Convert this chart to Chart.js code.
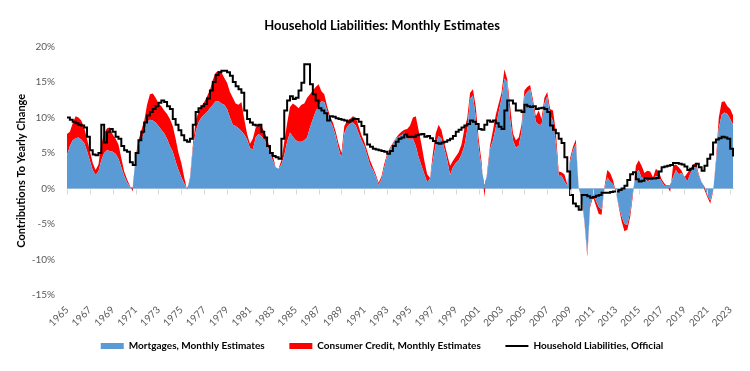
<!DOCTYPE html>
<html>
<head>
<meta charset="utf-8">
<script src="https://cdn.jsdelivr.net/npm/chart.js@4.4.0/dist/chart.umd.min.js"></script>
<style>
  html, body { margin: 0; padding: 0; background: #fff; }
</style>
</head>
<body>
<canvas id="grafico" width="750" height="371"></canvas>
<script>
// quarterly readings, first point = Q1 1965 (contributions to yearly change, %)
const startYear = 1965;

const mortgages = [
  4.7, 6.0, 6.8, 7.1, 7.2, 6.9, 6.4, 5.3, 3.9, 2.6, 1.9, 2.4, 4.0, 5.0, 5.4, 5.3, 5.2, 4.9, 4.2, 3.0,
  1.8, 0.9, 0.2, 0.1, 4.4, 6.1, 7.0, 7.8, 9.4, 9.7, 9.6, 9.3, 8.8, 8.3, 7.8, 7.0, 6.0, 5.2,
  3.8, 2.6, 1.6, 0.7, 0.0, 1.2, 5.5, 8.0, 9.3, 10.0, 10.4, 10.8, 11.3, 11.8, 12.3, 12.3, 12.0, 11.8, 11.2, 10.0,
  9.0, 8.8, 8.5, 8.1, 7.6, 6.9, 5.7, 5.5, 7.2, 7.7, 7.4, 6.9, 6.1, 5.0, 3.9, 3.0, 2.8, 3.4, 4.7, 6.6, 7.9,
  7.3, 6.8, 6.6, 6.6, 6.8, 7.2, 8.6, 9.8, 10.9, 11.7, 12.3, 12.2, 11.0, 9.6, 8.7, 7.4, 5.6, 4.3, 7.8, 8.7,
  9.1, 9.3, 8.9, 7.8, 6.8, 6.0, 4.7, 3.3, 2.6, 1.7, 0.5, 1.3, 3.0, 4.6, 5.6, 6.2, 7.0, 7.3, 7.5, 7.9,
  7.0, 7.0, 7.0, 6.0, 4.4, 3.2, 2.0, 0.9, 1.4, 4.0, 6.2, 7.4, 7.0, 5.6, 4.0, 1.9, 3.0, 3.6, 4.0, 4.8,
  6.0, 8.3, 12.6, 13.1, 10.0, 5.8, 3.0, 0.4, 2.0, 5.6, 6.8, 8.6, 10.8, 12.7, 15.5, 15.0, 9.8, 6.8, 5.8, 6.0,
  8.0, 13.0, 13.6, 14.0, 12.0, 9.4, 9.0, 9.0, 12.0, 13.0, 10.3, 9.5, 6.4, 1.8, 1.8, 1.0, 0.4, 3.8, 5.4, 6.3,
  0.0, -1.2, -4.5, -9.2, -2.3, -0.8, -1.7, -2.6, -3.0, 0.0, 1.6, 1.0, 0.6, -0.5, -2.4, -3.9, -5.0, -5.1, -3.3, -0.3,
  2.2, 2.6, 1.5, 1.6, 1.0, 1.2, 1.2, 1.8, 1.6, 1.0, 0.4, 0.5, 0.5, 1.6, 2.6, 2.0, 2.2, 1.7, 1.0, 2.1,
  2.8, 3.1, 1.8, 0.9, 0.2, -0.9, -1.7, -0.3, 3.5, 8.5, 10.4, 10.7, 10.5, 9.8, 9.0
];

const consumerCredit = [
  3.0, 2.0, 2.4, 3.1, 2.8, 2.7, 2.2, 1.7, 1.4, 1.0, 0.7, 1.0, 2.2, 2.8, 3.1, 3.3, 2.4, 2.1, 2.0, 1.3,
  0.6, 0.4, 0.2, -0.5, 0.1, 0.7, 1.2, 1.7, 2.4, 3.6, 3.8, 3.5, 3.2, 3.3, 3.2, 3.5, 3.8, 3.6,
  3.2, 2.4, 2.0, 0.9, -0.2, 0.3, 0.5, 1.6, 1.5, 1.6, 1.8, 2.2, 2.6, 3.5, 4.0, 4.3, 4.4, 3.8, 3.7, 3.6,
  3.8, 3.2, 3.3, 4.1, 2.2, 0.8, 0.6, 1.5, 1.4, 1.3, 1.4, 1.1, 0.9, 0.5, 0.7, 0.0, 0.0, 0.6, 1.9, 2.6, 3.6,
  4.7, 4.9, 4.7, 5.2, 5.2, 5.6, 4.7, 4.0, 3.4, 3.0, 1.4, 1.1, 0.6, 0.6, 0.6, 0.6, 0.7, 0.7, 1.0, 0.9,
  0.7, 0.9, 1.1, 1.0, 0.7, 0.6, 0.6, 0.7, 0.4, 0.3, 0.3, 0.4, 0.5, 0.3, 0.2, 0.2, 0.1, 0.3, 0.5, 0.4,
  1.4, 1.9, 3.0, 4.2, 3.8, 3.0, 1.9, 1.1, 0.1, 1.0, 1.6, 1.6, 1.2, 0.8, 0.8, 1.3, 0.9, 0.9, 1.1, 1.4,
  2.4, 1.6, 0.9, 0.9, 1.5, 1.2, 0.8, -1.6, 0.5, 0.5, 1.4, 1.8, 1.2, 0.8, 1.3, 0.4, 1.9, 1.0, 1.0, 1.2,
  1.0, 0.8, 0.7, 0.6, 0.5, 0.8, 2.0, 0.8, 0.8, 0.6, 0.9, 1.5, 1.6, 0.6, 0.5, 1.0, 0.2, 0.5, 0.5, 0.6,
  0.0, -0.2, -0.3, -0.4, -0.3, -0.4, -0.7, -1.0, -0.7, 0.2, 1.0, 1.2, 0.6, 0.0, -0.2, -0.7, -1.0, -0.7, -0.7, -0.5,
  1.0, 1.4, 1.7, 0.6, 1.5, 1.2, 0.4, 1.0, 0.8, 0.3, 0.3, -0.2, -1.0, 1.6, 0.8, 1.0, 0.3, -0.1, 1.2, 0.7,
  0.6, 0.5, 0.2, 0.0, -0.4, -0.3, -0.4, -0.2, 0.5, 1.5, 1.8, 1.6, 1.1, 1.4, 1.3
];

const officialTotal = [
  10.0, 9.7, 9.4, 9.2, 9.0, 8.9, 8.6, 7.3, 5.4, 4.8, 4.7, 5.0, 9.0, 6.5, 8.0, 8.4, 8.0, 7.3, 7.0, 6.0,
  5.4, 5.2, 3.7, 3.3, 5.0, 6.8, 8.0, 9.3, 10.3, 10.8, 11.2, 11.6, 12.1, 12.4, 12.2, 11.6, 11.2, 9.8,
  9.0, 8.2, 7.5, 6.8, 6.6, 7.0, 9.0, 10.8, 11.3, 11.6, 11.9, 12.7, 13.8, 15.0, 16.0, 16.4, 16.6, 16.6, 16.4, 15.9,
  15.0, 14.4, 14.0, 13.5, 11.0, 9.8, 9.3, 9.0, 8.9, 9.0, 8.0, 7.2, 6.0, 5.0, 4.6, 4.4, 4.2, 7.0, 11.0, 12.4, 13.0,
  12.6, 12.8, 13.8, 14.9, 17.5, 17.5, 14.7, 13.3, 12.4, 11.3, 11.0, 10.6, 9.6, 10.2, 10.1, 9.9, 9.8, 9.7, 9.6, 9.4,
  9.6, 9.8, 9.8, 9.4, 8.8, 7.6, 6.2, 5.9, 5.6, 5.5, 5.4, 5.3, 5.2, 4.9, 5.3, 6.0, 6.6, 7.0, 7.2, 7.6,
  7.3, 7.3, 7.3, 7.5, 7.6, 7.7, 7.3, 7.4, 7.1, 6.7, 6.4, 6.3, 6.5, 6.6, 6.8, 7.0, 7.4, 8.0, 8.3, 8.6,
  8.9, 9.1, 9.6, 9.4, 9.1, 8.4, 8.3, 9.0, 9.6, 9.4, 9.6, 9.2, 8.7, 8.4, 11.0, 12.4, 12.4, 12.0, 11.0, 11.0,
  10.8, 11.8, 11.6, 11.5, 11.6, 11.2, 11.3, 11.4, 11.2, 10.8, 8.9, 8.3, 7.8, 7.0, 6.4, 4.4, 2.4, -0.9, -2.1, -2.5,
  -3.0, -0.9, -0.9, -1.1, -1.3, -1.2, -1.0, -0.9, -0.6, -0.6, -0.6, -0.5, -0.4, -0.4, -0.2, 0.0, 0.4, 1.2, 2.0, 2.3,
  1.3, 1.0, 1.1, 1.5, 1.4, 1.4, 1.4, 1.5, 2.4, 3.0, 3.1, 3.2, 3.3, 3.6, 3.6, 3.5, 3.4, 3.1, 2.6, 2.8,
  3.2, 3.5, 3.0, 2.5, 3.2, 4.2, 4.8, 6.5, 6.9, 7.1, 7.3, 7.2, 7.0, 5.6, 4.5
];

const xTickYears = [1965, 1967, 1969, 1971, 1973, 1975, 1977, 1979, 1981, 1983, 1985, 1987, 1989, 1991, 1993,
  1995, 1997, 1999, 2001, 2003, 2005, 2007, 2009, 2011, 2013, 2015, 2017, 2019, 2021, 2023];
const yTickValues = [-15, -10, -5, 0, 5, 10, 15, 20];

const quarters = mortgages.map((_, i) => startYear + i / 4);
const toPoints = arr => arr.map((v, i) => ({ x: quarters[i], y: v }));

const FONT = "Lato, 'Liberation Sans', sans-serif";
Chart.defaults.font.family = FONT;
Chart.defaults.color = '#595959';

// little tick marks hanging under the 0% line, like the Excel axis
const zeroTicks = {
  id: 'zeroTicks',
  afterDatasetsDraw(chart) {
    const { ctx, scales: { x, y } } = chart;
    const y0 = Math.round(y.getPixelForValue(0)) + 0.5;
    ctx.save();
    ctx.strokeStyle = '#D9D9D9';
    ctx.lineWidth = 1;
    ctx.beginPath();
    x.ticks.forEach(t => {
      const px = Math.round(x.getPixelForValue(t.value)) + 0.5;
      ctx.moveTo(px, y0);
      ctx.lineTo(px, y0 + 5);
    });
    ctx.stroke();
    ctx.restore();
  }
};

const ctx = document.getElementById('grafico');

let chart = new Chart(ctx, {
  type: 'line',
  data: {
    datasets: [
      {
        label: 'Mortgages, Monthly Estimates',
        data: toPoints(mortgages),
        backgroundColor: '#5B9BD5',
        borderColor: 'transparent',
        borderWidth: 0,
        fill: 'origin',
        pointRadius: 0,
        pointStyle: 'rect',
        stack: 'est'
      },
      {
        label: 'Consumer Credit, Monthly Estimates',
        data: toPoints(consumerCredit),
        backgroundColor: '#FF0000',
        borderColor: 'transparent',
        borderWidth: 0,
        fill: '-1',
        pointRadius: 0,
        pointStyle: 'rect',
        stack: 'est'
      },
      {
        label: 'Household Liabilities, Official',
        data: toPoints(officialTotal),
        borderColor: '#000000',
        backgroundColor: '#000000',
        borderWidth: 2,
        fill: false,
        stepped: true,
        pointRadius: 0,
        pointStyle: 'line',
        stack: 'official',
        order: -1   // draw the line above the areas
      }
    ]
  },
  options: {
    responsive: false,
    animation: false,
    layout: { padding: { left: 30, right: 16, top: 0, bottom: 10 } },
    plugins: {
      title: {
        display: true,
        text: 'Household Liabilities: Monthly Estimates',
        color: '#000',
        font: { size: 13, weight: 'bold' },
        padding: { top: 18, bottom: 13 }
      },
      legend: {
        position: 'bottom',
        labels: {
          usePointStyle: true,
          pointStyleWidth: 23,
          boxHeight: 6,
          padding: 10,
          color: '#000',
          font: { size: 10, weight: 'bold' },
          sort: (a, b) => a.datasetIndex - b.datasetIndex,
          generateLabels(ch) {
            const items = Chart.defaults.plugins.legend.labels.generateLabels(ch);
            items.forEach(it => { if (it.datasetIndex < 2) it.text += '      '; });
            return items;
          }
        }
      },
      tooltip: { enabled: false }
    },
    scales: {
      x: {
        type: 'linear',
        min: 1965,
        max: 2023.33,
        afterBuildTicks: axis => { axis.ticks = xTickYears.map(v => ({ value: v })); },
        afterFit: axis => { axis.height = 36; },
        ticks: {
          autoSkip: false,
          minRotation: 45,
          maxRotation: 45,
          padding: 9,
          font: { size: 10 },
          color: '#595959',
          callback: v => String(v)
        },
        grid: { display: false, drawTicks: false },
        border: { display: false }
      },
      y: {
        stacked: 'single',
        min: -15,
        max: 20,
        z: 1,
        afterBuildTicks: axis => { axis.ticks = yTickValues.map(v => ({ value: v })); },
        afterFit: axis => { axis.width = 37; },
        ticks: {
          padding: 12,
          font: { size: 10 },
          color: '#595959',
          callback: v => v + '%'
        },
        grid: {
          drawTicks: false,
          color: c => (c.tick && c.tick.value === 0 ? '#D9D9D9' : 'transparent')
        },
        border: { display: false },
        title: {
          display: true,
          text: 'Contributions To Yearly Change',
          color: '#000',
          font: { size: 11, weight: 'bold' },
          padding: { top: -15, bottom: 0 }
        }
      }
    }
  },
  plugins: [zeroTicks]
});
</script>
</body>
</html>
